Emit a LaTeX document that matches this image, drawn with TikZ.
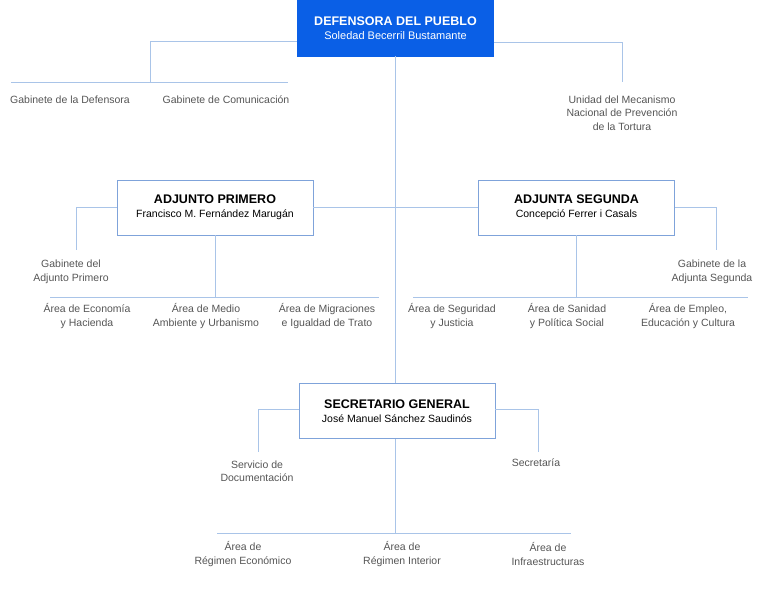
\documentclass[tikz,border=0pt]{standalone}
\usepackage{fontspec}
\setmainfont{Liberation Sans}
\definecolor{linkblue}{HTML}{A9C4E8}
\definecolor{boxedge}{HTML}{7FA3DA}
\definecolor{topblue}{HTML}{0A5FE6}
\definecolor{labelgray}{HTML}{555555}
\tikzset{
  chief/.style={draw=boxedge, line width=0.8pt, minimum width=196pt, minimum height=55pt, align=center, inner sep=0pt},
  unit/.style={text=labelgray, align=center, font=\fontsize{10.5}{13.5}\selectfont},
  link/.style={draw=linkblue, line width=0.8pt}
}
\begin{document}
\begin{tikzpicture}[x=1pt, y=-1pt]
      \useasboundingbox (0,0) rectangle (780,609);
      % Boxes
      \node[chief, fill=topblue, draw=topblue, text=white, minimum height=56pt] (dp) at (395.5,28)
        {\fontsize{12.5}{15}\selectfont\bfseries DEFENSORA DEL PUEBLO\\[2pt] \fontsize{11}{13}\selectfont Soledad Becerril Bustamante};
      \node[chief] (ap) at (215,207.5)
        {\fontsize{12.5}{15}\selectfont\bfseries ADJUNTO PRIMERO\\[2pt] \fontsize{10.5}{13}\selectfont Francisco M. Fernández Marugán};
      \node[chief] (as) at (576.5,207.5)
        {\fontsize{12.5}{15}\selectfont\bfseries ADJUNTA SEGUNDA\\[2pt] \fontsize{10.5}{13}\selectfont Concepció Ferrer i Casals};
      \node[chief] (sg) at (397,411)
        {\fontsize{12.5}{15}\selectfont\bfseries SECRETARIO GENERAL\\[2pt] \fontsize{10.5}{13}\selectfont José Manuel Sánchez Saudinós};

      % Units
      \node[unit] (gdef) at (70,100) {Gabinete de la Defensora};
      \node[unit] (gcom) at (226,100) {Gabinete de Comunicación};
      \node[unit] (unmp) at (622,113) {Unidad del Mecanismo\\Nacional de Prevención\\de la Tortura};
      \node[unit] (gap) at (71,272) {Gabinete del\\Adjunto Primero};
      \node[unit] (gas) at (712,272) {Gabinete de la\\Adjunta Segunda};
      \node[unit] (aeco) at (87,316) {Área de Economía\\y Hacienda};
      \node[unit] (amed) at (206,316) {Área de Medio\\Ambiente y Urbanismo};
      \node[unit] (amig) at (327,316) {Área de Migraciones\\e Igualdad de Trato};
      \node[unit] (aseg) at (452,316) {Área de Seguridad\\y Justicia};
      \node[unit] (asan) at (567,316) {Área de Sanidad\\y Política Social};
      \node[unit] (aemp) at (688,316) {Área de Empleo,\\Educación y Cultura};
      \node[unit] (sdoc) at (257,471) {Servicio de\\Documentación};
      \node[unit] (secr) at (536,463) {Secretaría};
      \node[unit] (reco) at (243,554) {Área de\\Régimen Económico};
      \node[unit] (rint) at (402,554) {Área de\\Régimen Interior};
      \node[unit] (rinf) at (548,554) {Área de\\Infraestructuras};

      % Connectors
      \draw[link] (dp.south) -- (dp.south |- sg.north);
      \draw[link] (sg.south -| dp.south) -- (dp.south |- 0,533);
      \draw[link] (dp.west |- 0,41) -| (150,82);
      \draw[link] (11,82) -- (288,82);
      \draw[link] (dp.east |- 0,42) -| (622,82);
      \draw[link] (ap.east) -- (as.west);
      \draw[link] (ap.west) -| (76,250);
      \draw[link] (ap.south) -- (ap.south |- 0,297);
      \draw[link] (50,297) -- (379,297);
      \draw[link] (as.east) -| (716,250);
      \draw[link] (as.south) -- (as.south |- 0,297);
      \draw[link] (413,297) -- (748,297);
      \draw[link] (sg.west |- 0,409) -| (258,452);
      \draw[link] (sg.east |- 0,409) -| (538,452);
      \draw[link] (217,533) -- (571,533);
\end{tikzpicture}
\end{document}
